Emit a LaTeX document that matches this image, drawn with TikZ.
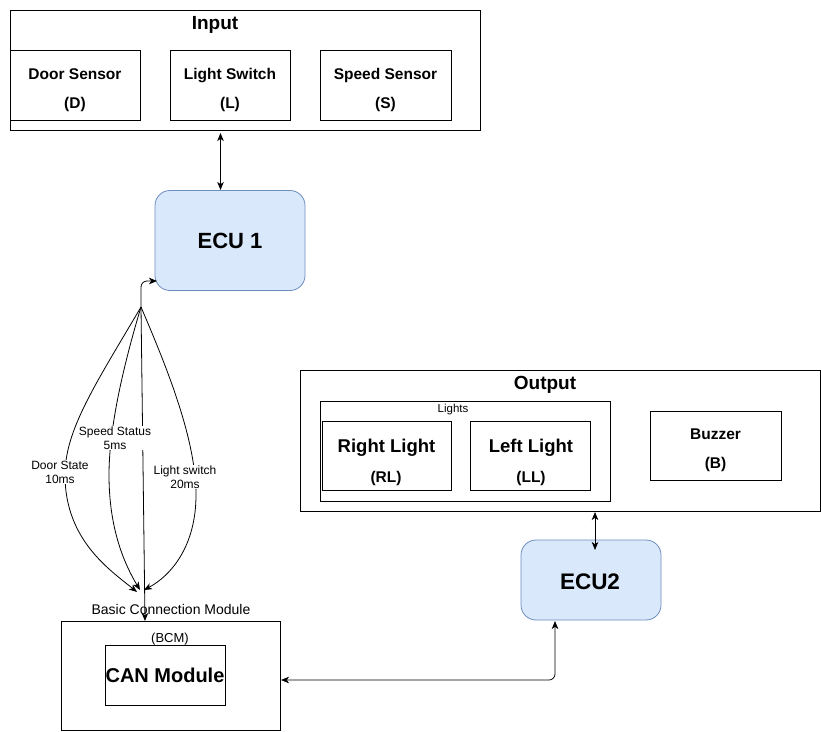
\documentclass[tikz,border=0pt]{standalone}
\usepackage{fontspec}
\setmainfont{Liberation Sans}
\usetikzlibrary{arrows.meta}
\definecolor{ecufill}{HTML}{DAE8FC}
\definecolor{eculine}{HTML}{6C8EBF}

\begin{document}
\begin{tikzpicture}[x=1pt,y=-1pt,
  box/.style={draw=black, line width=0.8pt, inner sep=0pt, outer sep=0pt},
  ecu/.style={draw=eculine, fill=ecufill, line width=0.8pt, rounded corners=15pt,
    inner sep=0pt, outer sep=0pt, font=\fontsize{22}{26}\selectfont\bfseries},
  heading/.style={font=\fontsize{19}{22}\selectfont\bfseries, inner sep=0pt},
  item/.style={font=\fontsize{15.5}{29}\selectfont\bfseries, align=center, inner sep=0pt},
  big/.style={font=\fontsize{18.5}{22}\selectfont\bfseries, inner sep=0pt},
  sub/.style={font=\fontsize{15.5}{19}\selectfont\bfseries, inner sep=0pt},
  small/.style={font=\fontsize{13}{15}\selectfont, inner sep=0pt},
  tag/.style={font=\fontsize{12}{14}\selectfont, align=center, fill=white, inner sep=1pt},
  tip/.tip={Stealth[length=8pt,width=6.5pt,inset=2.2pt]},
  link/.style={line width=0.8pt, -tip},
  both/.style={line width=0.8pt, tip-tip},
]
\useasboundingbox (0,0) rectangle (821,731);

% ---- input group ----
\node[box, minimum width=470, minimum height=120] (input) at (245,70) {};
\node[heading] (inputt) at (215,24.5) {Input};
\node[box, minimum width=130, minimum height=70] (door) at (75,85) {};
\node[item] (doort) at (75,90) {Door Sensor\\(D)};
\node[box, minimum width=120, minimum height=70] (lsw) at (230,85) {};
\node[item] (lswt) at (230,90) {Light Switch\\(L)};
\node[box, minimum width=131, minimum height=70] (spd) at (385.5,85) {};
\node[item] (spdt) at (385.5,90) {Speed Sensor\\(S)};

% ---- ECU 1 ----
\node[ecu, minimum width=150, minimum height=100] (ecu1) at (230,240.5) {ECU 1};

% ---- output group ----
\node[box, minimum width=520, minimum height=141] (output) at (560,440.5) {};
\node[heading] (outputt) at (545,385) {Output};
\node[box, minimum width=290, minimum height=100] (lights) at (465,451) {};
\node[font=\fontsize{11.5}{13}\selectfont, inner sep=0pt] (lightst) at (453,410) {Lights};
\node[box, minimum width=129, minimum height=69] (rl) at (386.5,455.5) {};
\node[big] (rlt) at (386.5,448) {Right Light};
\node[sub] (rls) at (386,478) {(RL)};
\node[box, minimum width=120, minimum height=69] (ll) at (530,455.5) {};
\node[big] (llt) at (531,448) {Left Light};
\node[sub] (lls) at (531,478) {(LL)};
\node[box, minimum width=131, minimum height=69] (buz) at (715.5,445.5) {};
\node[item] (buzt) at (715.5,450) {Buzzer\\(B)};

% ---- ECU 2 ----
\node[ecu, minimum width=140, minimum height=80] (ecu2) at (591,580) {};
\node[font=\fontsize{22.5}{26}\selectfont\bfseries, inner sep=0pt] (ecu2t) at (590,582) {ECU2};

% ---- BCM ----
\node[box, minimum width=219, minimum height=109] (bcm) at (170.5,675.5) {};
\node[font=\fontsize{14}{16}\selectfont, inner sep=0pt] (bcmtitle) at (171,609) {Basic Connection Module};
\node[small] (bcmt) at (170,639) {(BCM)};
\node[box, minimum width=120, minimum height=60, font=\fontsize{20}{24}\selectfont\bfseries]
  (can) at (165,675) {CAN Module};

% ---- connector end points ----
\coordinate (J) at (141,307);
\coordinate (bcmtop) at (145,621);
\coordinate (e1in) at (157,281);
\coordinate (inbot) at (220.5,133);
\coordinate (e1top) at (220.5,190);
\coordinate (outbot) at (595,512);
\coordinate (e2top) at (595,550);
\coordinate (e2in) at (555,621);
\coordinate (bcmin) at (281,680);
\coordinate (dsEnd) at (137,592);
\coordinate (ssEnd) at (140,590);
\coordinate (lsEnd) at (144,590);

% input <-> ECU 1, output <-> ECU 2
\draw[both] (inbot) -- (e1top);
\draw[both] (outbot) -- (e2top);

% BCM <-> ECU 1
\draw[both, rounded corners=6pt] (bcmtop) -- (J) |- (e1in);

% CAN messages from ECU 1 to the BCM
\draw[link] (J) .. controls (95,385) and (65,430) .. (65,475)
  .. controls (65,540) and (110,570) .. (dsEnd);
\draw[link] (J) .. controls (122,370) and (109,430) .. (109,475)
  .. controls (109,530) and (125,565) .. (ssEnd);
\draw[link] (J) .. controls (168,370) and (196,440) .. (196,495)
  .. controls (196,545) and (172,575) .. (lsEnd);

\node[tag] (dstag) at (60,472) {Door State\\10ms};
\node[tag] (sstag) at (115,438) {Speed Status\\5ms};
\node[tag] (lstag) at (185,477) {Light switch\\20ms};

% ECU 2 <-> BCM
\draw[both, rounded corners=6pt] (bcmin) -| (e2in);
\end{tikzpicture}
\end{document}
